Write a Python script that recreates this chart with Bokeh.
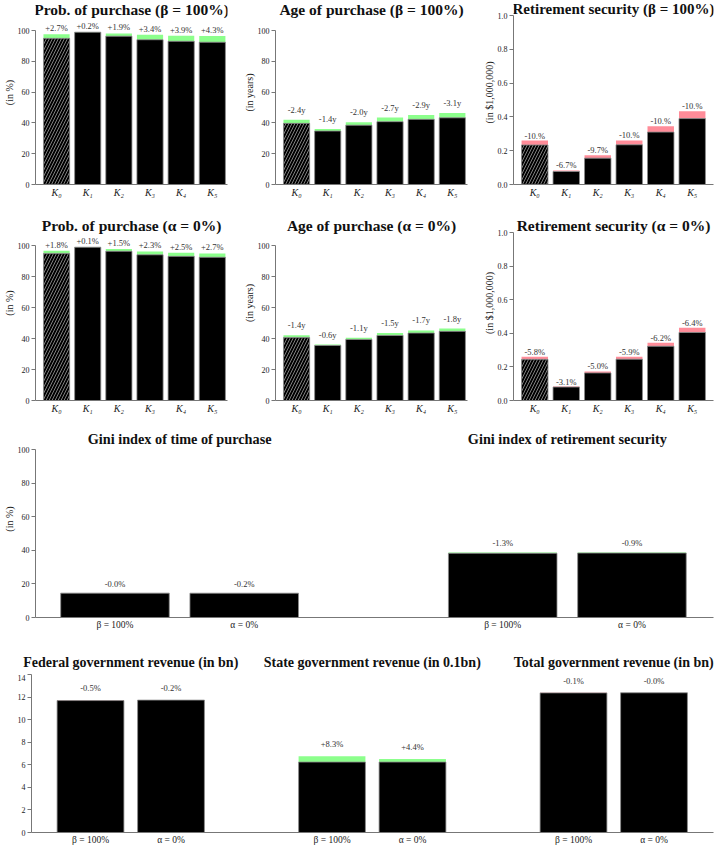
import numpy as np
from bokeh.plotting import figure
from bokeh.layouts import column, row
from bokeh.models import (Range1d, FixedTicker, ColumnDataSource, LabelSet, Label,
                          PrintfTickFormatter)
from bokeh.core.properties import value
from bokeh.embed import file_html
from bokeh.resources import INLINE

# ---------------- data ----------------
k_labels = ["K₀", "K₁", "K₂", "K₃", "K₄", "K₅"]

prob_base = [94.9, 98.9, 96.3, 94.0, 93.0, 92.4]
prob_beta = [97.5, 99.1, 98.1, 97.2, 96.6, 96.4]
prob_alpha = [96.6, 99.0, 97.7, 96.2, 95.3, 94.9]
prob_beta_txt = ["+2.7%", "+0.2%", "+1.9%", "+3.4%", "+3.9%", "+4.3%"]
prob_alpha_txt = ["+1.8%", "+0.1%", "+1.5%", "+2.3%", "+2.5%", "+2.7%"]

age_base = [42.1, 36.1, 40.5, 43.5, 45.2, 46.4]
age_beta = [39.7, 34.7, 38.5, 40.8, 42.3, 43.3]
age_alpha = [40.7, 35.5, 39.4, 42.0, 43.5, 44.6]
age_beta_txt = ["-2.4y", "-1.4y", "-2.0y", "-2.7y", "-2.9y", "-3.1y"]
age_alpha_txt = ["-1.4y", "-0.6y", "-1.1y", "-1.5y", "-1.7y", "-1.8y"]

ret_base = [0.260, 0.083, 0.173, 0.261, 0.344, 0.433]
ret_beta = [0.234, 0.077, 0.156, 0.235, 0.310, 0.390]
ret_alpha = [0.245, 0.080, 0.164, 0.246, 0.323, 0.405]
ret_beta_txt = ["-10.%", "-6.7%", "-9.7%", "-10.%", "-10.%", "-10.%"]
ret_alpha_txt = ["-5.8%", "-3.1%", "-5.0%", "-5.9%", "-6.2%", "-6.4%"]

scenario_labels = ["β = 100%", "α = 0%"]

gini_time_base = [14.5, 14.5]
gini_time_new = [14.5, 14.47]
gini_time_txt = ["-0.0%", "-0.2%"]
gini_ret_base = [38.7, 38.7]
gini_ret_new = [38.2, 38.35]
gini_ret_txt = ["-1.3%", "-0.9%"]

fed_base = [11.75, 11.75]
fed_new = [11.69, 11.73]
fed_txt = ["-0.5%", "-0.2%"]
state_base = [6.24, 6.24]
state_new = [6.76, 6.51]
state_txt = ["+8.3%", "+4.4%"]
total_base = [12.38, 12.38]
total_new = [12.37, 12.38]
total_txt = ["-0.1%", "-0.0%"]

revenue_titles = ["Federal government revenue (in bn)",
                  "State government revenue (in 0.1bn)",
                  "Total government revenue (in bn)"]
gini_titles = ["Gini index of time of purchase", "Gini index of retirement security"]

pct_ticks = [0, 20, 40, 60, 80, 100]
mil_ticks = [0, 0.2, 0.4, 0.6, 0.8, 1.0]
bn_ticks = [0, 2, 4, 6, 8, 10, 12, 14]

# ---------------- style ----------------
SERIF = "Liberation Serif"
GREEN = "#8cff8c"
PINK = "#ff8c99"
AXIS = "#777777"
TXT = "#222222"


def make_fig(width, height, xr, ytop, left, right, bottom,
             frame_top, axis_top, frame_bottom):
    """ytop: value at top of the axis; positions are page pixels."""
    yend = ytop * (frame_bottom - frame_top) / (frame_bottom - axis_top)
    p = figure(width=width, height=height,
               x_range=Range1d(start=xr[0], end=xr[1]),
               y_range=Range1d(start=0, end=yend),
               output_backend="svg", toolbar_location=None,
               min_border_left=left, min_border_right=right,
               min_border_top=0, min_border_bottom=bottom)
    p.frame_align = False
    p.grid.visible = False
    p.outline_line_color = None
    for ax in (p.xaxis[0], p.yaxis[0]):
        ax.axis_line_color = AXIS
        ax.axis_line_width = 1
        ax.major_tick_line_color = AXIS
        ax.minor_tick_line_color = None
        ax.major_label_text_font = SERIF
        ax.major_label_text_color = TXT
    p.yaxis.bounds = (0, ytop)
    p.yaxis.major_tick_in = 0
    p.yaxis.major_tick_out = 4
    p.yaxis.major_label_text_font_size = "8px"
    p.yaxis.major_label_standoff = 2
    p.yaxis.axis_label_standoff = 0
    p.yaxis.axis_label_text_font = SERIF
    p.yaxis.axis_label_text_font_style = "normal"
    p.yaxis.axis_label_text_font_size = "10px"
    p.yaxis.axis_label_text_color = TXT
    p.xaxis.major_tick_line_color = None
    p.xaxis.major_tick_out = 0
    p.xaxis.major_label_standoff = 2
    p.xaxis.major_label_text_font_size = "10px"

    def ypage(page_y):
        return ytop * (frame_bottom - page_y) / (frame_bottom - axis_top)
    return p, ypage


def add_bars(p, xs, base, new, txt, color, width, hatch_first, yoff):
    lo = np.minimum(base, new)
    hi = np.maximum(base, new)
    hatch = ["/" if (hatch_first and i == 0) else " " for i in range(len(xs))]
    src = ColumnDataSource(dict(x=list(xs), lo=lo, hi=hi, txt=txt, hatch=hatch))
    p.vbar(x="x", width=width, bottom="lo", top="hi", source=src,
           fill_color=color, line_color=None)
    p.vbar(x="x", width=width, bottom=0, top="lo", source=src,
           fill_color="black", line_color="#8a8a8a", line_width=0.8,
           hatch_pattern="hatch", hatch_color="#8f8f8f", hatch_scale=6, hatch_weight=0.9)
    p.add_layout(LabelSet(x="x", y="hi", text="txt", source=src,
                          text_align="center", text_baseline="middle", y_offset=yoff,
                          text_font=value(SERIF), text_font_size="8.5px",
                          text_color="#333333"))


def add_title(p, x, y, text, size):
    p.add_layout(Label(x=x, y=y, text=text, text_align="center", text_baseline="middle",
                       text_font=SERIF, text_font_style="bold",
                       text_font_size=size, text_color="#111111"))


def k_panel(title, ylabel, base, new, txt, color, ytop, ticks, width, height,
            left, right, bottom, xr, frame_top, axis_top, frame_bottom, title_y,
            tsize, yoff, fmt=None):
    p, ypage = make_fig(width, height, xr, ytop, left, right, bottom,
                        frame_top, axis_top, frame_bottom)
    xs = list(range(len(k_labels)))
    add_bars(p, xs, base, new, txt, color, 0.84, True, yoff)
    p.xaxis.ticker = FixedTicker(ticks=xs)
    p.xaxis.major_label_overrides = {i: lab for i, lab in enumerate(k_labels)}
    p.xaxis.major_label_text_font_style = "italic"
    p.yaxis.ticker = FixedTicker(ticks=ticks)
    if fmt:
        p.yaxis.formatter = PrintfTickFormatter(format=fmt)
    p.yaxis.axis_label = ylabel
    add_title(p, (xr[0] + xr[1]) / 2, ypage(title_y), title, tsize)
    return p


XA = (-0.676, 5.487)
XC = (-0.676, 5.676)

# row 1: page y 0..205, frame bottom 184
row1 = row(
    k_panel("Prob. of purchase (β = 100%)", "(in %)", prob_base, prob_beta, prob_beta_txt,
            GREEN, 100, pct_ticks, 240, 205, 31, 13, 21, XA, 0, 30, 184, 9, "15.5px", 6),
    k_panel("Age of purchase (β = 100%)", "(in years)", age_base, age_beta, age_beta_txt,
            GREEN, 100, pct_ticks, 240, 205, 31, 13, 21, XA, 0, 30, 184, 9, "15.5px", 10),
    k_panel("Retirement security (β = 100%)", "(in $1,000,000)", ret_base, ret_beta,
            ret_beta_txt, PINK, 1.0, mil_ticks, 239, 205, 31, 6, 21, XC, 0, 15, 184, 8,
            "15px", 5, "%.1f"),
)
# row 2: page y 205..420, frame bottom 400
row2 = row(
    k_panel("Prob. of purchase (α = 0%)", "(in %)", prob_base, prob_alpha, prob_alpha_txt,
            GREEN, 100, pct_ticks, 240, 215, 31, 13, 20, XA, 205, 245, 400, 225, "15.5px", 6),
    k_panel("Age of purchase (α = 0%)", "(in years)", age_base, age_alpha, age_alpha_txt,
            GREEN, 100, pct_ticks, 240, 215, 31, 13, 20, XA, 205, 245, 400, 225, "15.5px", 10),
    k_panel("Retirement security (α = 0%)", "(in $1,000,000)", ret_base, ret_alpha,
            ret_alpha_txt, PINK, 1.0, mil_ticks, 239, 215, 31, 6, 20, XC, 205, 232, 400, 225,
            "15.5px", 5, "%.1f"),
)

# ---- Gini row: page y 420..640, frame bottom 617 ----
gini, gy = make_fig(719, 220, (-0.615, 4.631), 100, 31, 6, 23, 420, 449, 617)
g_slots = [[0, 1], [3, 4]]
add_bars(gini, g_slots[0], gini_time_base, gini_time_new, gini_time_txt, GREEN, 0.84, False, 9)
add_bars(gini, g_slots[1], gini_ret_base, gini_ret_new, gini_ret_txt, GREEN, 0.84, False, 9)
g_all = g_slots[0] + g_slots[1]
gini.xaxis.ticker = FixedTicker(ticks=g_all)
gini.xaxis.major_label_overrides = {s: scenario_labels[i % 2] for i, s in enumerate(g_all)}
gini.xaxis.major_label_text_font_size = "9.5px"
gini.yaxis.ticker = FixedTicker(ticks=pct_ticks)
gini.yaxis.axis_label = "(in %)"
for slots, t in zip(g_slots, gini_titles):
    add_title(gini, sum(slots) / 2, gy(438), t, "14.25px")

# ---- revenue title strip: page y 640..674 (full width, so titles are not clipped) ----
r_slots = [[0, 1], [3, 4], [6, 7]]
strip = figure(width=719, height=34, x_range=Range1d(start=-1.118, end=7.814),
               y_range=Range1d(start=0, end=34), output_backend="svg",
               toolbar_location=None, min_border=0,
               x_axis_location=None, y_axis_location=None)
strip.frame_align = False
strip.grid.visible = False
strip.outline_line_color = None
for slots, t in zip(r_slots, revenue_titles):
    add_title(strip, sum(slots) / 2, 12, t, "14px")

# ---- revenue row: page y 674..862, frame bottom 832 ----
rev, ry = make_fig(719, 188, (-0.733, 7.739), 14, 31, 6, 30, 674, 674, 832)
add_bars(rev, r_slots[0], fed_base, fed_new, fed_txt, PINK, 0.83, False, 12)
add_bars(rev, r_slots[1], state_base, state_new, state_txt, GREEN, 0.83, False, 12)
add_bars(rev, r_slots[2], total_base, total_new, total_txt, PINK, 0.83, False, 12)
r_all = r_slots[0] + r_slots[1] + r_slots[2]
rev.xaxis.ticker = FixedTicker(ticks=r_all)
rev.xaxis.major_label_overrides = {s: scenario_labels[i % 2] for i, s in enumerate(r_all)}
rev.xaxis.major_label_text_font_size = "9.5px"
rev.yaxis.ticker = FixedTicker(ticks=bn_ticks)

layout = column(row1, row2, gini, strip, rev)
open("out.html", "w").write(file_html(layout, INLINE))
